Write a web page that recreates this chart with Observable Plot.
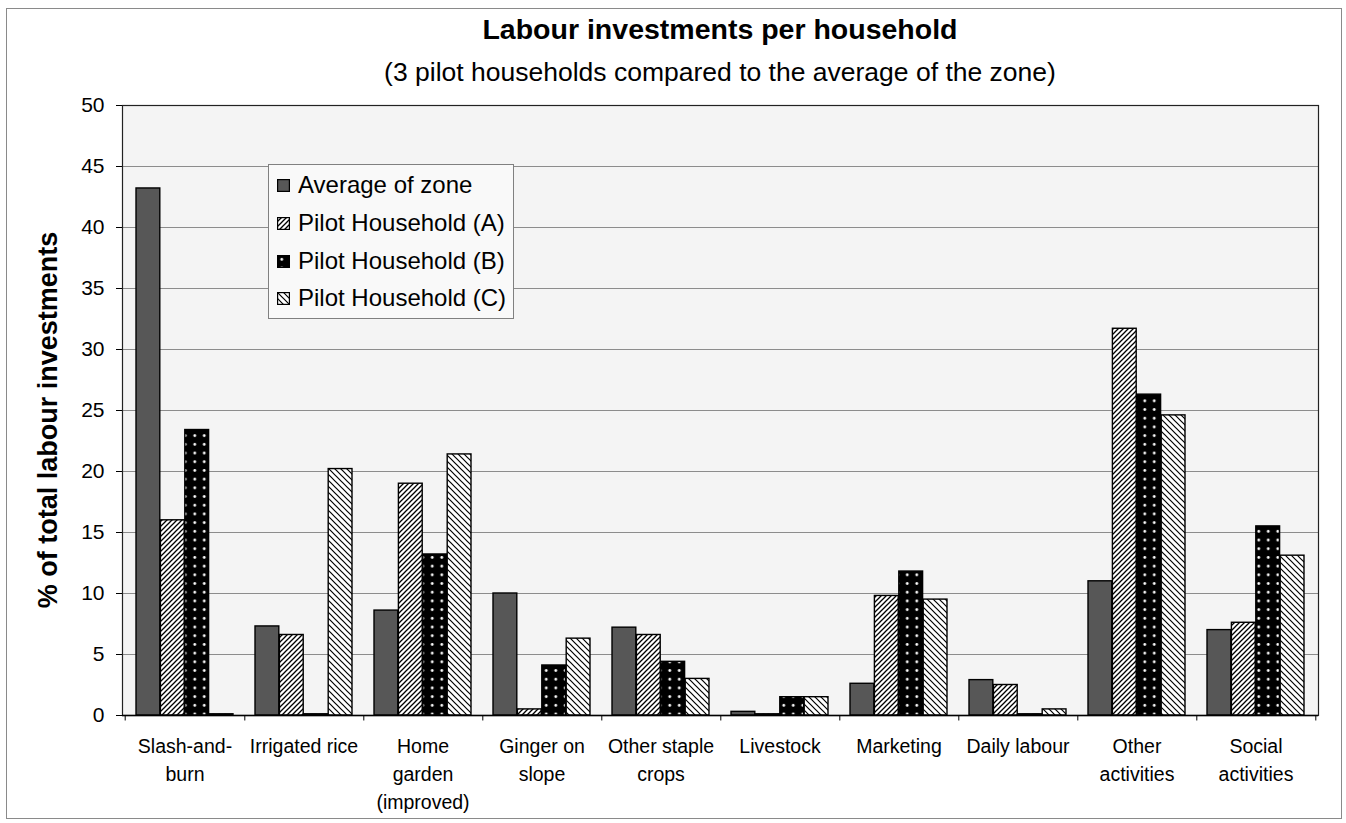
<!DOCTYPE html>
<html><head><meta charset="utf-8">
<script src="https://cdn.jsdelivr.net/npm/d3@7"></script>
<script src="https://cdn.jsdelivr.net/npm/@observablehq/plot@0.6"></script>
<style>
body{margin:0;background:#fff;font-family:"Liberation Sans",Arial,sans-serif;color:#000;}
#wrap{position:relative;width:1346px;height:823px;overflow:hidden;background:#fff;}
#frame{position:absolute;left:6px;top:8px;width:1336px;height:811px;border:1px solid #8a8a8a;box-sizing:border-box;}
#title{position:absolute;left:122px;width:1196px;top:13px;text-align:center;font-weight:bold;font-size:28.5px;line-height:33px;}
#subtitle{position:absolute;left:122px;width:1196px;top:57px;text-align:center;font-size:26.5px;line-height:31px;}
#chart{position:absolute;left:0;top:92px;}
#ylabel{position:absolute;left:48px;top:420px;transform:translate(-50%,-50%) rotate(-90deg);font-weight:bold;font-size:27px;white-space:nowrap;}
#legend{position:absolute;left:268px;top:164px;width:246px;height:155px;border:1px solid #808080;background:#f9f9f9;box-sizing:border-box;}
.item{position:absolute;left:8px;height:30px;display:flex;align-items:center;font-size:24px;white-space:nowrap;}
.item svg{margin-right:8px;flex:none;}
</style></head>
<body>
<svg width="0" height="0" style="position:absolute">
  <defs>
    <pattern id="patA" patternUnits="userSpaceOnUse" width="5" height="5">
      <rect width="5" height="5" fill="#fff"/>
      <path d="M-1,1 L1,-1 M0,5 L5,0 M4,6 L6,4" stroke="#000" stroke-width="1.3"/>
    </pattern>
    <pattern id="patC" patternUnits="userSpaceOnUse" width="6" height="6">
      <rect width="6" height="6" fill="#fff"/>
      <path d="M-1,5 L1,7 M0,0 L6,6 M5,-1 L7,1" stroke="#000" stroke-width="1.2"/>
    </pattern>
    <pattern id="patB" patternUnits="userSpaceOnUse" width="9.5" height="8.7">
      <rect width="9.5" height="8.7" fill="#000"/>
      <circle cx="4.75" cy="4.35" r="1.4" fill="#fff"/>
    </pattern>
  </defs>
</svg>
<div id="wrap">
  <div id="frame"></div>
  <div id="title">Labour investments per household</div>
  <div id="subtitle">(3 pilot households compared to the average of the zone)</div>
  <div id="chart"></div>
  <div id="ylabel">% of total labour investments</div>
  <div id="legend"></div>
</div>
<script>
const categories = ["Slash-and-burn","Irrigated rice","Home garden (improved)","Ginger on slope","Other staple crops","Livestock","Marketing","Daily labour","Other activities","Social activities"];
const categoryLabels = ["Slash-and-\nburn","Irrigated rice","Home\ngarden\n(improved)","Ginger on\nslope","Other staple\ncrops","Livestock","Marketing","Daily labour","Other\nactivities","Social\nactivities"];
const seriesNames = ["Average of zone","Pilot Household (A)","Pilot Household (B)","Pilot Household (C)"];
const averageOfZone = [43.2, 7.3, 8.6, 10.0, 7.2, 0.3, 2.6, 2.9, 11.0, 7.0];
const pilotA =        [16.0, 6.6, 19.0, 0.5, 6.6, 0.1, 9.8, 2.5, 31.7, 7.6];
const pilotB =        [23.4, 0.1, 13.2, 4.1, 4.4, 1.5, 11.8, 0.1, 26.3, 15.5];
const pilotC =        [0.1, 20.2, 21.4, 6.3, 3.0, 1.5, 9.5, 0.5, 24.6, 13.1];
const yTicks = [0,5,10,15,20,25,30,35,40,45,50];

const seriesValues = [averageOfZone, pilotA, pilotB, pilotC];
const fills = ["#575757","url(#patA)","url(#patB)","url(#patC)"];

const W = 1346, H = 731, mL = 122, mR = 28, mT = 13, mB = 108;
const bw = (W - mL - mR) / categories.length;
const barW = bw * 0.204;
const off = (bw - 4 * barW) / 2;

const barMarks = seriesValues.map((vals, i) =>
  Plot.barY(categories.map((c, j) => ({cat: c, v: vals[j], s: seriesNames[i]})), {
    x: "cat", y: "v", fill: fills[i], stroke: "#000", strokeWidth: 1.4,
    insetLeft: off + i * barW, insetRight: bw - off - (i + 1) * barW
  })
);

const chart = Plot.plot({
  width: W, height: H,
  marginLeft: mL, marginRight: mR, marginTop: mT, marginBottom: mB,
  style: {fontFamily: "'Liberation Sans', Arial, sans-serif", color: "#000", background: "transparent", overflow: "visible"},
  x: {domain: categories, padding: 0, label: null},
  y: {domain: [0, 50], label: null},
  marks: [
    Plot.frame({fill: "#f4f4f4", stroke: null}),
    Plot.ruleY(yTicks.slice(1), {stroke: "#8c8c8c", strokeWidth: 1}),
    ...barMarks,
    Plot.frame({stroke: "#222", strokeWidth: 1.2}),
    Plot.ruleY([0], {stroke: "#000", strokeWidth: 1.3}),
    Plot.ruleX(categories, {x: d => d, dx: bw / 2, y1: 0, y2: -0.45, stroke: "#000", clip: false}),
    Plot.ruleX(categories.slice(0, 1), {x: d => d, dx: -bw / 2, y1: 0, y2: -0.45, stroke: "#000", clip: false}),
    Plot.axisY({ticks: yTicks, tickSize: 6, tickPadding: 12, fontSize: 21, label: null}),
    Plot.axisX({tickSize: 0, tickPadding: 17, fontSize: 19.5, lineHeight: 1.45, label: null,
      tickFormat: d => categoryLabels[categories.indexOf(d)]})
  ]
});
document.getElementById("chart").appendChild(chart);

const legend = document.getElementById("legend");
const rowTops = [5, 43, 81, 118];
seriesNames.forEach((name, i) => {
  const item = document.createElement("div");
  item.className = "item";
  item.style.top = rowTops[i] + "px";
  item.innerHTML = `<svg width="13" height="13"><rect x="0.6" y="0.6" width="11.8" height="11.8" fill="${fills[i]}" stroke="#000" stroke-width="1.2"/></svg><span>${name}</span>`;
  legend.appendChild(item);
});
</script>
</body></html>
